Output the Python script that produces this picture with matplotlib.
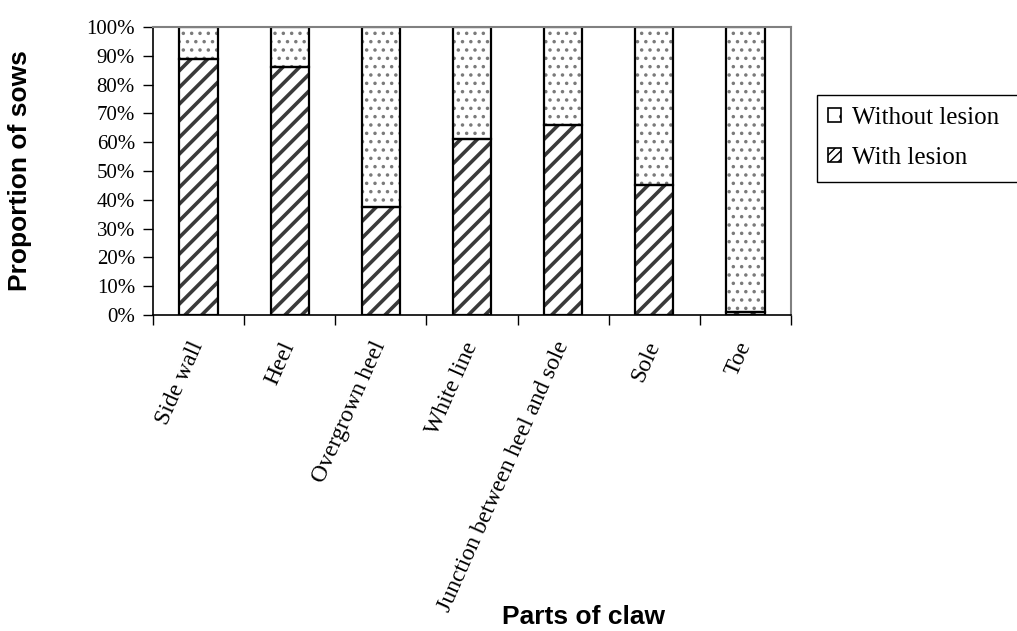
import matplotlib
matplotlib.use("Agg")
import matplotlib.pyplot as plt
from matplotlib.patches import Patch, Rectangle
from matplotlib.ticker import FixedLocator, FuncFormatter
import numpy as np

# --- Data (percent of sows) ---
parts = ["Side wall", "Heel", "Overgrown heel", "White line",
         "Junction between heel and sole", "Sole", "Toe"]
with_lesion = [89, 86, 37.5, 61, 66, 45, 1]
without_lesion = [100 - v for v in with_lesion]

serif = "Liberation Serif"
sans = "Liberation Sans"

fig = plt.figure(figsize=(10.17, 6.31), dpi=100)
ax = fig.add_axes([153 / 1017, 316 / 631, 638 / 1017, 288 / 631])

x = np.arange(len(parts)) + 0.5
width = 0.42
lesion = np.array(with_lesion) / 100
no_lesion = np.array(without_lesion) / 100

# hatched fills first, black outlines drawn on top
plt.rcParams["hatch.linewidth"] = 2.6
ax.bar(x, lesion, width, color="white", edgecolor="#3a3a3a", hatch="//", linewidth=0)
plt.rcParams["hatch.linewidth"] = 1.3
ax.bar(x, no_lesion, width, bottom=lesion, color="white", edgecolor="#7a7a7a",
       hatch="..", linewidth=0)
ax.bar(x, lesion, width, fill=False, edgecolor="black", linewidth=1.6)
ax.bar(x, no_lesion, width, bottom=lesion, fill=False, edgecolor="black", linewidth=1.6)

ax.set_xlim(0, len(parts))
ax.set_ylim(0, 1)

# y axis
ax.yaxis.set_major_locator(FixedLocator(np.linspace(0, 1, 11)))
ax.yaxis.set_major_formatter(FuncFormatter(lambda v, p: f"{v * 100:.0f}%"))
ax.tick_params(axis="y", direction="out", length=7, width=1, pad=6,
               labelsize=15, color="black")
for lab in ax.get_yticklabels():
    lab.set_fontfamily(serif)

# x axis: ticks between categories, labels under bar centres
ax.set_xticks(np.arange(len(parts) + 1))
ax.set_xticklabels([])
ax.tick_params(axis="x", which="major", direction="out", length=7, width=1)
ax.set_xticks(x, minor=True)
ax.set_xticklabels(parts, minor=True, rotation=66, ha="right", va="center",
                   rotation_mode="anchor", fontsize=17, fontfamily=serif)
ax.tick_params(axis="x", which="minor", length=0, pad=20)

for side in ["left", "bottom"]:
    ax.spines[side].set_color("black")
    ax.spines[side].set_linewidth(1.2)
for side in ["top", "right"]:
    ax.spines[side].set_color("#808080")
    ax.spines[side].set_linewidth(1.5)

fig.text(20 / 1017, 1 - 171 / 631, "Proportion of sows", rotation=90,
         ha="center", va="center", fontsize=19, fontweight="bold", fontfamily=sans)
fig.text(583 / 1017, 1 - 617 / 631, "Parts of claw",
         ha="center", va="center", fontsize=19, fontweight="bold", fontfamily=sans)

# --- Legend: frame drawn separately so it runs off the right edge ---
fig.patches.append(Rectangle((817 / 1017, 1 - 182 / 631), 230 / 1017, 87 / 631,
                             transform=fig.transFigure, facecolor="white",
                             edgecolor="black", linewidth=1.0, zorder=1))
plt.rcParams["hatch.linewidth"] = 1.0
handles = [
    Patch(facecolor="white", edgecolor="black", hatch=".", linewidth=1.2, label="Without lesion"),
    Patch(facecolor="white", edgecolor="black", hatch="////", linewidth=1.2, label="With lesion"),
]
leg = fig.legend(handles=handles, loc="upper left",
                 bbox_to_anchor=(823 / 1017, 1 - 102 / 631),
                 bbox_transform=fig.transFigure, borderaxespad=0,
                 prop={"family": serif, "size": 18}, handlelength=0.5,
                 handleheight=0.5, handletextpad=0.45, borderpad=0.2,
                 labelspacing=0.72, frameon=False)
leg.set_zorder(2)

plt.savefig("out.png", dpi=100)
